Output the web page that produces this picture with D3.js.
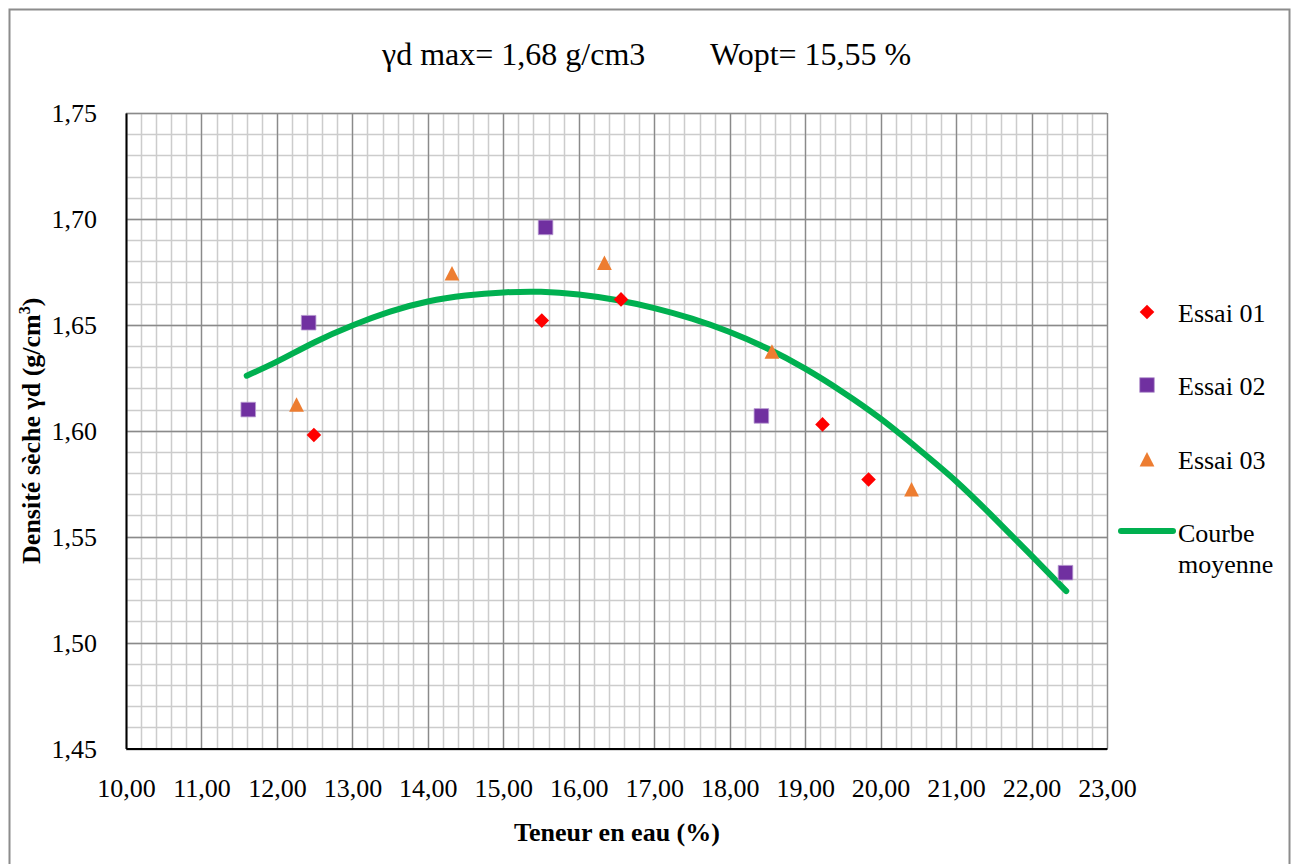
<!DOCTYPE html>
<html>
<head>
<meta charset="utf-8">
<script src="https://cdn.jsdelivr.net/npm/d3@7"></script>
<style>
  html, body { margin: 0; padding: 0; background: #fff; }
  svg { display: block; }
</style>
</head>
<body>
<svg id="chart" width="1292" height="864"></svg>
<script>
// Compaction test results: water content (%) vs dry density (g/cm3)
const essai01X = [12.49, 15.51, 16.56, 19.23, 19.84];
const essai01Y = [1.598, 1.652, 1.662, 1.603, 1.577];

const essai02X = [11.62, 12.42, 15.56, 18.42, 22.45];
const essai02Y = [1.610, 1.651, 1.696, 1.607, 1.533];

const essai03X = [12.26, 14.32, 16.34, 18.56, 20.41];
const essai03Y = [1.612, 1.674, 1.679, 1.637, 1.572];

// Mean compaction curve
const courbeX = [11.60, 12.0, 12.5, 13.0, 13.5, 14.0, 14.5, 15.0, 15.5, 16.0, 16.5, 17.0,
                 17.5, 18.0, 18.5, 19.0, 19.5, 20.0, 20.5, 21.0, 21.5, 22.0, 22.46];
const courbeY = [1.626, 1.6326, 1.6418, 1.6497, 1.6562, 1.661, 1.6638, 1.6653, 1.6656, 1.6643, 1.6617, 1.6579,
                 1.6529, 1.6466, 1.6388, 1.6293, 1.6182, 1.6057, 1.5914, 1.5762, 1.5590, 1.5410, 1.5243];

const xTicks = d3.range(10, 23.001, 1);
const yTicks = [1.45, 1.50, 1.55, 1.60, 1.65, 1.70, 1.75];
const seriesNames = ["Essai 01", "Essai 02", "Essai 03"];
const titleLeft = "γd max= 1,68 g/cm3";
const titleRight = "Wopt= 15,55 %";

const FONT = "'Liberation Serif', 'Times New Roman', Times, serif";
const fmt = v => v.toFixed(2).replace(".", ",");

const svg = d3.select("#chart");

// outer frame
svg.append("rect")
  .attr("x", 9.5).attr("y", 9.5).attr("width", 1280).attr("height", 860)
  .attr("fill", "#fff").attr("stroke", "#8c8c8c").attr("stroke-width", 2);

const plot = { left: 126, right: 1107, top: 113, bottom: 748.5 };

const x = d3.scaleLinear().domain([10, 23]).range([plot.left, plot.right]);
const y = d3.scaleLinear().domain([1.45, 1.75]).range([plot.bottom, plot.top]);

// minor grid
const g = svg.append("g");
const minorX = d3.range(10, 23.0001, 0.2);
const minorY = d3.range(1.45, 1.75001, 0.01);
g.selectAll(".mx").data(minorX).join("line")
  .attr("x1", d => Math.round(x(d)) + 0.5).attr("x2", d => Math.round(x(d)) + 0.5)
  .attr("y1", plot.top).attr("y2", plot.bottom)
  .attr("stroke", "#cccccc").attr("stroke-width", 1.5);
g.selectAll(".my").data(minorY).join("line")
  .attr("y1", d => Math.round(y(d)) + 0.5).attr("y2", d => Math.round(y(d)) + 0.5)
  .attr("x1", plot.left).attr("x2", plot.right)
  .attr("stroke", "#cccccc").attr("stroke-width", 1.5);

// major grid
g.selectAll(".Mx").data(xTicks).join("line")
  .attr("x1", d => Math.round(x(d)) + 0.5).attr("x2", d => Math.round(x(d)) + 0.5)
  .attr("y1", plot.top).attr("y2", plot.bottom)
  .attr("stroke", "#8a8a8a").attr("stroke-width", 1.3);
g.selectAll(".My").data(yTicks).join("line")
  .attr("y1", d => Math.round(y(d)) + 0.5).attr("y2", d => Math.round(y(d)) + 0.5)
  .attr("x1", plot.left).attr("x2", plot.right)
  .attr("stroke", "#8a8a8a").attr("stroke-width", 1.3);

// axes
const xAxis = d3.axisBottom(x).tickValues(xTicks).tickFormat(fmt).tickSize(0).tickPadding(0);
const yAxis = d3.axisLeft(y).tickValues(yTicks).tickFormat(fmt).tickSize(0).tickPadding(29);

const gx = svg.append("g").attr("transform", `translate(0,${plot.bottom})`).call(xAxis);
const gy = svg.append("g").attr("transform", `translate(${plot.left},0)`).call(yAxis);
[gx, gy].forEach(a => {
  a.attr("font-family", null).attr("font-size", null);
  a.select(".domain").attr("stroke", "#000").attr("stroke-width", 2);
  a.selectAll("text")
    .style("font-family", FONT).style("font-size", "26px").style("font-weight", "normal")
    .attr("fill", "#000");
});
gx.selectAll("text").attr("y", 48).attr("dy", 0);
gy.selectAll("text").attr("dy", "0.34em");

// mean curve
const curvePts = courbeX.map((v, i) => [v, courbeY[i]]);
svg.append("path")
  .datum(curvePts)
  .attr("d", d3.line().x(d => x(d[0])).y(d => y(d[1])).curve(d3.curveNatural))
  .attr("fill", "none").attr("stroke", "#00B050").attr("stroke-width", 6)
  .attr("stroke-linecap", "round");

// markers
const colors = ["#FF0000", "#7030A0", "#ED7D31"];

function symbolPath(i) {
  if (i === 0) return "M0,-7.3L7.3,0L0,7.3L-7.3,0Z";
  if (i === 1) return "M-7.3,-7.3H7.3V7.3H-7.3Z";
  return "M0,-8L7.4,6.5H-7.4Z";
}

const seriesData = [
  essai01X.map((v, i) => [v, essai01Y[i]]),
  essai02X.map((v, i) => [v, essai02Y[i]]),
  essai03X.map((v, i) => [v, essai03Y[i]])
];

seriesData.forEach((pts, si) => {
  svg.append("g").selectAll("path").data(pts).join("path")
    .attr("transform", d => `translate(${x(d[0])},${y(d[1])})`)
    .attr("d", symbolPath(si))
    .attr("fill", colors[si])
    .attr("stroke", si === 1 ? "#b89ad0" : "none")
    .attr("stroke-width", si === 1 ? 0.8 : 0);
});

function txt(xp, yp, size, s, weight) {
  return svg.append("text").attr("x", xp).attr("y", yp)
    .style("font-family", FONT).style("font-size", size + "px")
    .style("font-weight", weight || "normal").attr("fill", "#000").text(s);
}

// title
txt(382, 65, 32, titleLeft);
txt(710, 65, 32, titleRight);

// axis titles
txt(617, 841, 26, "Teneur en eau (%)", "bold").attr("text-anchor", "middle");

const yl = svg.append("text")
  .attr("transform", `translate(40,${(plot.top + plot.bottom) / 2}) rotate(-90)`)
  .attr("text-anchor", "middle")
  .style("font-family", FONT).style("font-size", "26px").style("font-weight", "bold");
yl.append("tspan").text("Densité sèche γd (g/cm");
yl.append("tspan").style("font-size", "16px").attr("dy", -10).text("3");
yl.append("tspan").attr("dy", 10).text(")");

// legend
const legMarkY = [312, 385, 460];
const legTextY = [322, 395, 469];
seriesNames.forEach((name, i) => {
  svg.append("path").attr("transform", `translate(1147,${legMarkY[i]})`)
    .attr("d", symbolPath(i)).attr("fill", colors[i])
    .attr("stroke", i === 1 ? "#b89ad0" : "none").attr("stroke-width", i === 1 ? 0.8 : 0);
  txt(1178, legTextY[i], 26, name);
});
svg.append("line").attr("x1", 1121).attr("x2", 1173).attr("y1", 531).attr("y2", 531)
  .attr("stroke", "#00B050").attr("stroke-width", 6).attr("stroke-linecap", "round");
txt(1178, 542, 26, "Courbe");
txt(1178, 573, 26, "moyenne");
</script>
</body>
</html>
